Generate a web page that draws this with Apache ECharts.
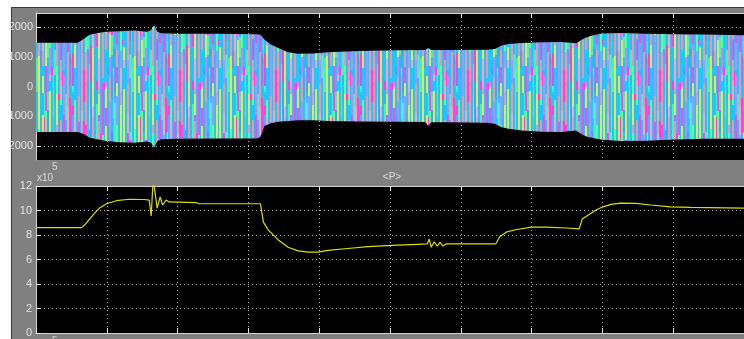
<!DOCTYPE html>
<html>
<head>
<meta charset="utf-8">
<title>&lt;P&gt; scope</title>
<script src="https://cdn.jsdelivr.net/npm/echarts@6/dist/echarts.min.js"></script>
<style>
  html, body { margin: 0; padding: 0; background: #fff; }
  #chart { width: 744px; height: 339px; }
</style>
</head>
<body>
<div id="chart"></div>
<script>
// Scope window: phase voltages (top) and active power <P> (bottom)

// top trace: envelope of the phase voltages
const envTime = [0, 0.589, 0.673, 0.757, 0.898, 0.996, 1.178, 1.388, 1.571, 1.627, 1.669, 1.711, 1.767,
  1.992, 2.581, 3.114, 3.170, 3.226, 3.310, 3.422, 3.562, 3.703, 3.913, 4.123, 4.544, 5.105, 5.498,
  5.540, 5.582, 5.806, 6.367, 6.480, 6.578, 6.676, 6.858, 7.139, 7.419, 7.630, 7.700, 7.770, 7.868,
  7.994, 8.261, 8.612, 9.032, 9.453, 10.0];
const envUpper = [1472, 1472, 1600, 1740, 1810, 1843, 1860, 1880, 1840, 1900, 2070, 1850, 1790,
  1775, 1770, 1760, 1740, 1580, 1420, 1290, 1150, 1100, 1110, 1155, 1190, 1215, 1225,
  1290, 1230, 1228, 1237, 1260, 1380, 1425, 1465, 1490, 1495, 1450, 1560, 1650, 1725,
  1785, 1795, 1770, 1755, 1745, 1720];
const envLower = [-1530, -1530, -1600, -1720, -1790, -1830, -1870, -1890, -1850, -1900, -2060, -1850, -1770,
  -1755, -1750, -1750, -1700, -1330, -1240, -1185, -1160, -1136, -1130, -1160, -1175, -1183, -1190,
  -1330, -1200, -1200, -1217, -1250, -1370, -1420, -1480, -1520, -1525, -1475, -1600, -1680, -1730,
  -1790, -1830, -1820, -1780, -1760, -1755];

// bottom trace: <P>, in units of 1e5
const pTime = [0, 0.645, 0.70, 0.757, 0.83, 0.898, 0.996, 1.136, 1.318, 1.529, 1.599, 1.627, 1.655,
  1.683, 1.711, 1.753, 1.788, 1.837, 1.879, 2.258, 2.30, 3.17, 3.212, 3.282, 3.422, 3.562, 3.703,
  3.843, 3.983, 4.123, 4.404, 4.684, 5.105, 5.386, 5.526, 5.554, 5.582, 5.624, 5.666, 5.708, 5.75,
  5.792, 6.494, 6.55, 6.648, 6.788, 6.999, 7.209, 7.49, 7.672, 7.714, 7.84, 7.91, 8.008, 8.121,
  8.261, 8.471, 8.682, 8.962, 9.243, 10.0];
const pValue = [8.6, 8.6, 8.9, 9.3, 9.8, 10.2, 10.55, 10.8, 10.92, 10.9, 10.85, 9.55, 12.6,
  12.6, 10.2, 11.1, 10.45, 10.85, 10.7, 10.65, 10.55, 10.55, 9.05, 8.4, 7.6, 7.0, 6.7,
  6.6, 6.6, 6.75, 6.9, 7.05, 7.18, 7.24, 7.27, 7.67, 7.0, 7.45, 7.1, 7.4, 7.1,
  7.27, 7.27, 7.86, 8.25, 8.45, 8.65, 8.65, 8.57, 8.5, 9.3, 9.77, 10.04, 10.3, 10.5,
  10.6, 10.58, 10.45, 10.3, 10.26, 10.2];

const voltTicks = [-2000, -1000, 0, 1000, 2000];
const powerTicks = [0, 2, 4, 6, 8, 10, 12];

// vertical colour stripes used to fill the voltage band (a texture, not data)
function makeStripes() {
  const w = 96, h = 200;
  const c = document.createElement('canvas');
  c.width = w; c.height = h;
  const ctx = c.getContext('2d');
  // "cool" columns are mostly cyan, "warm" columns carry the other phases
  const cool = ['#1ec8ff', '#1ec8ff', '#1ec8ff', '#22bfff', '#1ec8ff', '#3aa8ff', '#44f0c8', '#ff3cf0', '#1ec8ff'];
  const warm = ['#ff8e9e', '#f2e24a', '#b78cff', '#ff8e9e', '#f2e24a', '#ff48e8', '#5cff8a', '#1ec8ff', '#ffa0b4'];
  let x = 0, col = 0;
  while (x < w) {
    const cw = (col % 5 === 4) ? 1 : 2;
    const pal = (col % 2 === 0) ? cool : warm;
    let y = 0, seg = 0;
    while (y < h) {
      const hash = (Math.imul(col + 3, 0x9e3779b1) ^ Math.imul(seg + 11, 0x85ebca6b)) >>> 0;
      const sh = 6 + (hash % 30);
      ctx.fillStyle = pal[(hash >>> 7) % pal.length];
      ctx.fillRect(x, y, cw, sh);
      y += sh; seg++;
    }
    x += cw; col++;
  }
  return c;
}
const stripes = { image: makeStripes(), repeat: 'repeat' };

const labelFont = {
  color: '#e2e2e2',
  fontFamily: "'Liberation Sans Narrow', 'Liberation Sans', Arial, sans-serif",
  fontSize: 11
};
const frame = { show: true, lineStyle: { color: '#d4d4d4', width: 1 } };
const dotted = { show: true, lineStyle: { color: '#bdbdbd', type: [1, 3], width: 1 } };
const inTick = { show: true, inside: true, length: 5, lineStyle: { color: '#e6e6e6' } };

function timeAxis(gridIndex, position, split) {
  return {
    type: 'value', gridIndex, position, min: 0, max: 10, interval: 1,
    axisLine: frame, axisTick: inTick, axisLabel: { show: false },
    splitLine: split ? dotted : { show: false }
  };
}

const chart = echarts.init(document.getElementById('chart'));

chart.setOption({
  backgroundColor: '#808080',
  animation: false,
  grid: [
    { left: 36, right: -5, top: 13, height: 147, show: true, backgroundColor: '#000', borderWidth: 0 },
    { left: 36, right: -5, top: 186, height: 147, show: true, backgroundColor: '#000', borderWidth: 0 }
  ],
  xAxis: [
    timeAxis(0, 'bottom', true),
    timeAxis(0, 'top', false),
    timeAxis(1, 'bottom', true),
    timeAxis(1, 'top', false)
  ],
  yAxis: [
    {
      type: 'value', gridIndex: 0, min: -2470, max: 2470,
      axisLine: frame,
      axisTick: Object.assign({ customValues: voltTicks }, inTick),
      axisLabel: Object.assign({ customValues: voltTicks, margin: 3, formatter: v => String(Math.abs(v)) }, labelFont),
      splitLine: dotted
    },
    {
      type: 'value', gridIndex: 1, min: 0, max: 12, interval: 2,
      axisLine: frame, axisTick: inTick,
      axisLabel: Object.assign({ margin: 4, customValues: powerTicks }, labelFont),
      splitLine: dotted
    }
  ],
  graphic: [
    { type: 'rect', shape: { x: 0, y: 0, width: 744, height: 7 }, style: { fill: '#fff' }, silent: true },
    { type: 'rect', shape: { x: 0, y: 0, width: 11, height: 339 }, style: { fill: '#fff' }, silent: true },
    { type: 'line', shape: { x1: 11.5, y1: 7, x2: 11.5, y2: 339 }, style: { stroke: '#3a3a3a', lineWidth: 1 }, silent: true },
    { type: 'line', shape: { x1: 11, y1: 7.5, x2: 744, y2: 7.5 }, style: { stroke: '#3a3a3a', lineWidth: 1 }, silent: true },
    { type: 'text', x: 392, y: 177, style: { text: '<P>', fill: '#dcdcdc', font: '10px "Liberation Sans", Arial, sans-serif', align: 'center', verticalAlign: 'middle' } },
    { type: 'text', x: 37, y: 178, style: { text: 'x10', fill: '#dcdcdc', font: '10px "Liberation Sans", Arial, sans-serif', verticalAlign: 'middle' } },
    { type: 'text', x: 52, y: 167, style: { text: '5', fill: '#dcdcdc', font: '10px "Liberation Sans", Arial, sans-serif', verticalAlign: 'middle' } },
    { type: 'text', x: 52, y: 341, style: { text: '5', fill: '#dcdcdc', font: '10px "Liberation Sans", Arial, sans-serif', verticalAlign: 'middle' } }
  ],
  series: [
    {
      type: 'custom',
      name: 'voltages',
      xAxisIndex: 0, yAxisIndex: 0,
      data: envTime.map((t, i) => [t, envUpper[i], envLower[i]]),
      encode: { x: 0, y: [1, 2] },
      clip: true,
      renderItem: function (params, api) {
        if (params.dataIndex !== 0) return null;
        const pts = envTime.map((t, i) => api.coord([t, envUpper[i]]));
        for (let i = envTime.length - 1; i >= 0; i--) {
          pts.push(api.coord([envTime[i], envLower[i]]));
        }
        return { type: 'polygon', shape: { points: pts }, style: { fill: stripes } };
      }
    },
    {
      type: 'line',
      name: '<P>',
      xAxisIndex: 2, yAxisIndex: 1,
      data: pTime.map((t, i) => [t, pValue[i]]),
      showSymbol: false,
      clip: true,
      lineStyle: { color: '#dede00', width: 1.2 }
    }
  ]
});
</script>
</body>
</html>
